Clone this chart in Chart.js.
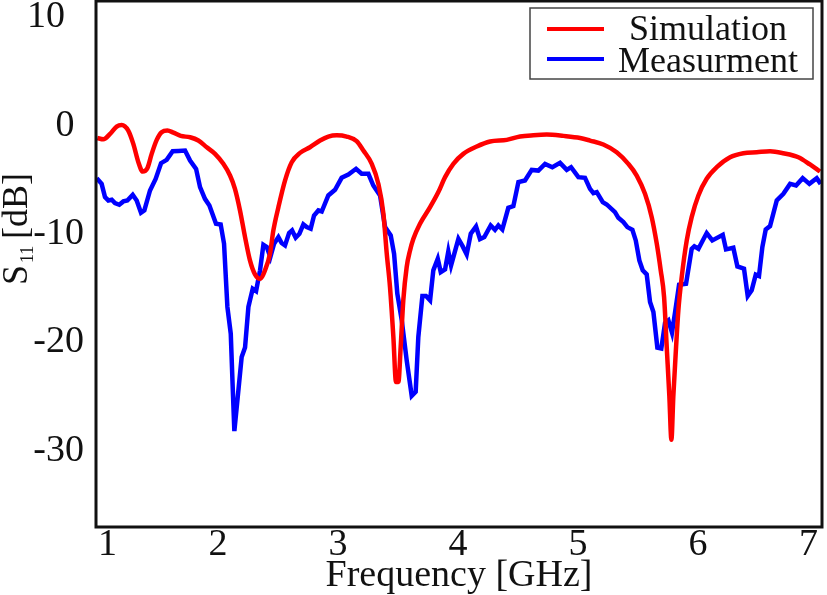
<!DOCTYPE html>
<html>
<head>
<meta charset="utf-8">
<title>S11</title>
<script src="https://cdn.jsdelivr.net/npm/chart.js@4"></script>
<style>
    html, body { margin: 0; padding: 0; background: #fff; }
    canvas { display: block; }
</style>
</head>
<body>
<canvas id="s11Chart" width="827" height="595"></canvas>
<script>
// [frequency GHz, S11 dB]
const simulation = [
    [0.994,-1.14],[1.044,-1.26],[1.10,-0.77],[1.155,-0.09],[1.197,0.06],[1.252,-0.46],[1.294,-1.69],[1.336,-3.38],
    [1.372,-4.24],[1.411,-3.93],[1.447,-2.61],[1.489,-1.32],[1.53,-0.61],[1.578,-0.46],[1.628,-0.65],[1.689,-0.95],
    [1.767,-1.08],[1.836,-1.38],[1.906,-2.0],[1.975,-2.61],[2.044,-3.53],[2.10,-4.61],[2.141,-5.84],[2.183,-7.83],
    [2.225,-10.29],[2.266,-12.44],[2.308,-13.73],[2.35,-14.13],[2.391,-13.36],[2.433,-11.83],[2.461,-9.68],[2.503,-7.53],
    [2.558,-5.07],[2.614,-3.38],[2.683,-2.52],[2.766,-2.0],[2.85,-1.38],[2.919,-1.01],[2.989,-0.89],[3.072,-1.01],
    [3.155,-1.44],[3.211,-2.3],[3.281,-3.53],[3.336,-5.38],[3.378,-8.14],[3.406,-11.83],[3.433,-14.9],[3.461,-19.5],
    [3.483,-23.66],[3.503,-23.66],[3.522,-20.43],[3.544,-16.1],[3.572,-13.06],[3.6,-11.52],[3.628,-10.45],[3.683,-9.06],
    [3.767,-7.53],[3.836,-6.14],[3.892,-4.76],[3.961,-3.53],[4.044,-2.61],[4.156,-1.93],[4.267,-1.47],[4.406,-1.32],
    [4.517,-1.01],[4.628,-0.89],[4.739,-0.83],[4.878,-0.95],[5.017,-1.14],[5.1,-1.38],[5.211,-1.75],[5.322,-2.46],
    [5.419,-3.53],[5.489,-4.61],[5.558,-6.3],[5.614,-8.45],[5.656,-10.9],[5.689,-13.36],[5.717,-15.82],[5.739,-20.43],
    [5.761,-25.0],[5.778,-29.0],[5.794,-25.0],[5.817,-20.43],[5.836,-17.05],[5.864,-13.98],[5.906,-10.6],[5.947,-8.45],
    [6.003,-6.45],[6.072,-4.91],[6.156,-3.84],[6.267,-2.92],[6.378,-2.55],[6.489,-2.46],[6.6,-2.37],[6.711,-2.55],
    [6.836,-2.92],[6.933,-3.59],[7.017,-4.24]
];

const measurement = [
    [0.989,-4.85],[1.03,-5.38],[1.058,-6.6],[1.086,-6.91],[1.114,-6.85],[1.141,-7.16],[1.177,-7.31],[1.211,-7.0],
    [1.244,-6.91],[1.289,-6.39],[1.322,-6.91],[1.358,-8.05],[1.386,-7.83],[1.433,-5.99],[1.48,-4.92],[1.525,-3.47],
    [1.572,-3.16],[1.622,-2.37],[1.669,-2.34],[1.725,-2.3],[1.767,-3.23],[1.817,-3.99],[1.85,-5.68],[1.891,-6.76],
    [1.928,-7.37],[1.983,-9.06],[2.022,-9.12],[2.05,-10.9],[2.078,-16.74],[2.106,-19.2],[2.122,-24.1],[2.136,-28.2],
    [2.156,-25.96],[2.197,-21.35],[2.225,-20.49],[2.253,-16.74],[2.289,-15.05],[2.317,-15.27],[2.35,-13.36],[2.378,-11.0],
    [2.406,-11.2],[2.436,-12.14],[2.467,-10.9],[2.503,-10.29],[2.53,-10.84],[2.558,-11.06],[2.592,-9.92],[2.617,-9.68],
    [2.647,-10.35],[2.678,-9.99],[2.711,-9.12],[2.739,-9.37],[2.772,-9.52],[2.8,-8.3],[2.836,-7.83],[2.864,-7.93],
    [2.919,-6.45],[2.975,-5.93],[3.03,-4.82],[3.086,-4.52],[3.15,-3.99],[3.197,-4.45],[3.253,-4.45],[3.294,-5.53],
    [3.35,-6.45],[3.392,-9.37],[3.439,-10.14],[3.467,-11.83],[3.494,-15.51],[3.531,-17.97],[3.572,-21.66],[3.614,-24.95],
    [3.647,-24.58],[3.669,-19.51],[3.703,-15.73],[3.733,-15.73],[3.767,-16.13],[3.794,-13.36],[3.831,-12.29],[3.856,-13.52],
    [3.892,-13.27],[3.919,-11.61],[3.942,-12.9],[4.003,-10.45],[4.039,-11.15],[4.072,-11.89],[4.106,-9.98],[4.15,-9.31],
    [4.183,-10.48],[4.219,-10.29],[4.272,-9.22],[4.308,-9.62],[4.336,-9.22],[4.369,-9.59],[4.419,-7.59],[4.461,-7.43],
    [4.503,-5.22],[4.558,-5.07],[4.614,-4.09],[4.669,-4.15],[4.725,-3.53],[4.786,-3.84],[4.85,-3.44],[4.906,-4.09],
    [4.942,-3.84],[5.003,-4.76],[5.058,-4.82],[5.1,-5.84],[5.128,-6.24],[5.156,-6.14],[5.206,-7.07],[5.239,-7.28],
    [5.308,-7.99],[5.336,-8.51],[5.378,-8.91],[5.411,-9.37],[5.453,-9.62],[5.481,-10.6],[5.511,-12.44],[5.539,-13.36],
    [5.572,-13.73],[5.6,-16.28],[5.628,-17.2],[5.661,-20.49],[5.694,-20.58],[5.725,-18.22],[5.753,-17.97],[5.783,-19.11],
    [5.811,-17.05],[5.842,-14.69],[5.9,-14.59],[5.947,-11.37],[5.969,-11.15],[6.003,-11.37],[6.072,-9.92],[6.119,-10.6],
    [6.206,-10.08],[6.233,-11.43],[6.294,-11.28],[6.328,-13.0],[6.383,-13.21],[6.414,-15.73],[6.447,-15.21],[6.481,-13.76],
    [6.508,-13.89],[6.536,-11.21],[6.564,-9.59],[6.6,-9.28],[6.656,-6.91],[6.711,-6.3],[6.767,-5.38],[6.817,-5.53],
    [6.872,-4.85],[6.928,-5.38],[6.989,-4.85],[7.022,-5.38]
];

const toPoints = rows => rows.map(([x, y]) => ({ x, y }));
const serif = '"Liberation Serif", serif';

// frame, boxed legend and the y title with its subscript
const framePlugin = {
    id: 'frame',
    afterDraw(chart) {
        const { ctx, chartArea: a } = chart;
        ctx.save();
        ctx.strokeStyle = '#111';
        ctx.lineWidth = 3;
        ctx.strokeRect(a.left, a.top, a.right - a.left, a.bottom - a.top);

        ctx.fillStyle = '#fff';
        ctx.fillRect(530, 8, 283, 71);
        ctx.strokeStyle = '#444';
        ctx.lineWidth = 1.5;
        ctx.strokeRect(530, 8, 283, 71);

        ctx.font = '36px ' + serif;
        ctx.textAlign = 'center';
        ctx.textBaseline = 'alphabetic';
        chart.data.datasets.forEach((ds, i) => {
            const y = 29 + i * 30;
            ctx.strokeStyle = ds.borderColor;
            ctx.lineWidth = 4;
            ctx.beginPath();
            ctx.moveTo(547, y);
            ctx.lineTo(604, y);
            ctx.stroke();
            ctx.fillStyle = '#111';
            ctx.fillText(ds.label, 708, 40 + i * 31.5);
        });

        ctx.translate(27, 285);
        ctx.rotate(-Math.PI / 2);
        ctx.textAlign = 'left';
        ctx.fillStyle = '#111';
        ctx.font = '36px ' + serif;
        ctx.fillText('S', 0, 0);
        ctx.font = '18px ' + serif;
        ctx.fillText('11', 22, 6);
        ctx.font = '36px ' + serif;
        ctx.fillText('[dB]', 46, 0);
        ctx.restore();
    }
};

new Chart(document.getElementById('s11Chart'), {
    type: 'line',
    data: {
        datasets: [{
            label: 'Simulation',
            data: toPoints(simulation),
            borderColor: '#ff0000',
            borderWidth: 4.5,
            pointRadius: 0,
            cubicInterpolationMode: 'monotone'
        }, {
            label: 'Measurment',
            data: toPoints(measurement),
            borderColor: '#0000ff',
            borderWidth: 4.5,
            pointRadius: 0,
            tension: 0
        }]
    },
    options: {
        responsive: false,
        animation: false,
        layout: { padding: { top: 1, right: 5, left: 0, bottom: 0 } },
        plugins: { legend: { display: false }, tooltip: { enabled: false } },
        scales: {
            x: {
                type: 'linear',
                min: 0.983,
                max: 7.033,
                afterBuildTicks(scale) {
                    scale.ticks = [1, 2, 3, 4, 5, 6, 7].map(value => ({ value }));
                },
                afterFit(scale) {
                    scale.height = 68;
                    scale.paddingLeft = 0;
                    scale.paddingRight = 0;
                },
                grid: { display: false },
                border: { display: false },
                ticks: {
                    align: 'inner',
                    maxRotation: 0,
                    padding: -13,
                    color: '#111',
                    font: { family: serif, size: 38 }
                },
                title: {
                    display: true,
                    text: 'Frequency [GHz]',
                    color: '#111',
                    font: { family: serif, size: 38, lineHeight: 1 },
                    padding: 0
                }
            },
            y: {
                min: -37.05,
                max: 11.5,
                afterBuildTicks(scale) {
                    scale.ticks = [-30, -20, -10, 0, 10].map(value => ({ value }));
                },
                afterFit(scale) {
                    scale.width = 96;
                    scale.paddingTop = 0;
                    scale.paddingBottom = 0;
                },
                grid: { display: false },
                border: { display: false },
                ticks: {
                    padding: 4,
                    color: '#111',
                    font: { family: serif, size: 38 },
                    // the non negative labels sit further left in the original
                    callback(value) {
                        if (value === 10) return '10\u00a0\u00a0';
                        if (value === 0) return '0\u00a0';
                        return String(value);
                    }
                }
            }
        }
    },
    plugins: [framePlugin]
});
</script>
</body>
</html>
